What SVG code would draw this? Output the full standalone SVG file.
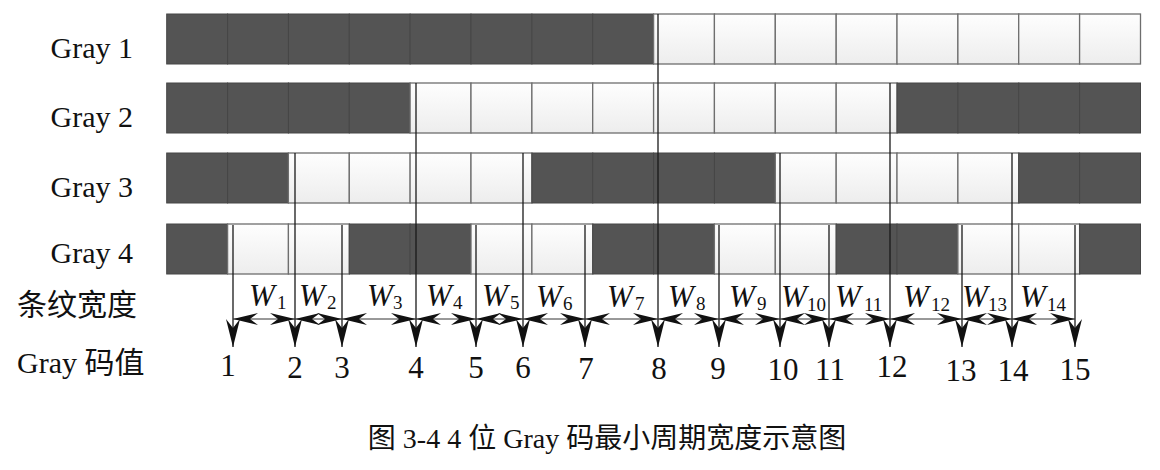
<svg xmlns="http://www.w3.org/2000/svg" width="1160" height="470" viewBox="0 0 1160 470">
<style>
.lbl{font-family:"Liberation Serif","Noto Sans CJK SC",serif;font-size:30px;fill:#111}
.cn{font-family:"Liberation Serif","Noto Sans CJK SC",serif;font-size:30px;fill:#111}
.w{font-family:"Liberation Serif",serif;font-size:31px;font-style:italic;fill:#111}
.sub{font-family:"Liberation Serif",serif;font-size:19px;fill:#111}
.num{font-family:"Liberation Serif",serif;font-size:31px;fill:#111;text-anchor:middle}
.cap{font-family:"Liberation Serif","Noto Sans CJK SC",serif;font-size:28px;fill:#111;text-anchor:middle}
.d{fill:#545454;stroke:#464646;stroke-width:1}
.l{fill:url(#lg);stroke:#6e6e6e;stroke-width:1.3}
.v{stroke:#1a1a1a;stroke-width:1.3;fill:none;marker-end:url(#va)}
.h{stroke:#333;stroke-width:1;fill:none;marker-start:url(#ha);marker-end:url(#ha)}
</style>
<defs>
<linearGradient id="lg" x1="0" y1="0" x2="0" y2="1">
<stop offset="0" stop-color="#fefefe"/>
<stop offset="1" stop-color="#ededed"/>
</linearGradient>
<marker id="va" viewBox="0 -8 28 16" refX="28" refY="0" markerWidth="28" markerHeight="16" markerUnits="userSpaceOnUse" orient="auto">
<path d="M28,0 L0,-7 L9,0 L0,7 Z" fill="#111"/>
</marker>
<marker id="ha" viewBox="0 -7 25 14" refX="25" refY="0" markerWidth="25" markerHeight="14" markerUnits="userSpaceOnUse" orient="auto-start-reverse">
<path d="M25,0 L0,-6 L8,0 L0,6 Z" fill="#111"/>
</marker>
</defs>
<rect width="1160" height="470" fill="#fff"/>

<g id="gray1">
<text class="lbl" x="133" y="58" text-anchor="end">Gray 1</text>
<rect class="d" x="166.7" y="14" width="60.9" height="50"/>
<rect class="d" x="227.6" y="14" width="60.9" height="50"/>
<rect class="d" x="288.4" y="14" width="60.9" height="50"/>
<rect class="d" x="349.3" y="14" width="60.9" height="50"/>
<rect class="d" x="410.1" y="14" width="60.9" height="50"/>
<rect class="d" x="471.0" y="14" width="60.9" height="50"/>
<rect class="d" x="531.9" y="14" width="60.9" height="50"/>
<rect class="d" x="592.7" y="14" width="60.9" height="50"/>
<rect class="l" x="653.6" y="14" width="60.9" height="50"/>
<rect class="l" x="714.4" y="14" width="60.9" height="50"/>
<rect class="l" x="775.3" y="14" width="60.9" height="50"/>
<rect class="l" x="836.2" y="14" width="60.9" height="50"/>
<rect class="l" x="897.0" y="14" width="60.9" height="50"/>
<rect class="l" x="957.9" y="14" width="60.9" height="50"/>
<rect class="l" x="1018.7" y="14" width="60.9" height="50"/>
<rect class="l" x="1079.6" y="14" width="60.9" height="50"/>
</g>

<g id="gray2">
<text class="lbl" x="133" y="127" text-anchor="end">Gray 2</text>
<rect class="d" x="166.7" y="83" width="60.9" height="50"/>
<rect class="d" x="227.6" y="83" width="60.9" height="50"/>
<rect class="d" x="288.4" y="83" width="60.9" height="50"/>
<rect class="d" x="349.3" y="83" width="60.9" height="50"/>
<rect class="l" x="410.1" y="83" width="60.9" height="50"/>
<rect class="l" x="471.0" y="83" width="60.9" height="50"/>
<rect class="l" x="531.9" y="83" width="60.9" height="50"/>
<rect class="l" x="592.7" y="83" width="60.9" height="50"/>
<rect class="l" x="653.6" y="83" width="60.9" height="50"/>
<rect class="l" x="714.4" y="83" width="60.9" height="50"/>
<rect class="l" x="775.3" y="83" width="60.9" height="50"/>
<rect class="l" x="836.2" y="83" width="60.9" height="50"/>
<rect class="d" x="897.0" y="83" width="60.9" height="50"/>
<rect class="d" x="957.9" y="83" width="60.9" height="50"/>
<rect class="d" x="1018.7" y="83" width="60.9" height="50"/>
<rect class="d" x="1079.6" y="83" width="60.9" height="50"/>
</g>

<g id="gray3">
<text class="lbl" x="133" y="197" text-anchor="end">Gray 3</text>
<rect class="d" x="166.7" y="153" width="60.9" height="50"/>
<rect class="d" x="227.6" y="153" width="60.9" height="50"/>
<rect class="l" x="288.4" y="153" width="60.9" height="50"/>
<rect class="l" x="349.3" y="153" width="60.9" height="50"/>
<rect class="l" x="410.1" y="153" width="60.9" height="50"/>
<rect class="l" x="471.0" y="153" width="60.9" height="50"/>
<rect class="d" x="531.9" y="153" width="60.9" height="50"/>
<rect class="d" x="592.7" y="153" width="60.9" height="50"/>
<rect class="d" x="653.6" y="153" width="60.9" height="50"/>
<rect class="d" x="714.4" y="153" width="60.9" height="50"/>
<rect class="l" x="775.3" y="153" width="60.9" height="50"/>
<rect class="l" x="836.2" y="153" width="60.9" height="50"/>
<rect class="l" x="897.0" y="153" width="60.9" height="50"/>
<rect class="l" x="957.9" y="153" width="60.9" height="50"/>
<rect class="d" x="1018.7" y="153" width="60.9" height="50"/>
<rect class="d" x="1079.6" y="153" width="60.9" height="50"/>
</g>

<g id="gray4">
<text class="lbl" x="133" y="263" text-anchor="end">Gray 4</text>
<rect class="d" x="166.7" y="224" width="60.9" height="50"/>
<rect class="l" x="227.6" y="224" width="60.9" height="50"/>
<rect class="l" x="288.4" y="224" width="60.9" height="50"/>
<rect class="d" x="349.3" y="224" width="60.9" height="50"/>
<rect class="d" x="410.1" y="224" width="60.9" height="50"/>
<rect class="l" x="471.0" y="224" width="60.9" height="50"/>
<rect class="l" x="531.9" y="224" width="60.9" height="50"/>
<rect class="d" x="592.7" y="224" width="60.9" height="50"/>
<rect class="d" x="653.6" y="224" width="60.9" height="50"/>
<rect class="l" x="714.4" y="224" width="60.9" height="50"/>
<rect class="l" x="775.3" y="224" width="60.9" height="50"/>
<rect class="d" x="836.2" y="224" width="60.9" height="50"/>
<rect class="d" x="897.0" y="224" width="60.9" height="50"/>
<rect class="l" x="957.9" y="224" width="60.9" height="50"/>
<rect class="l" x="1018.7" y="224" width="60.9" height="50"/>
<rect class="d" x="1079.6" y="224" width="60.9" height="50"/>
</g>

<g id="row-labels">
<text class="cn" x="17" y="315">条纹宽度</text>
<text class="lbl" x="17" y="373">Gray 码值</text>
</g>

<g id="connectors">
<path class="v" d="M233,225 V347"/>
<path class="v" d="M295,153 V347"/>
<path class="v" d="M342,225 V347"/>
<path class="v" d="M416,83 V347"/>
<path class="v" d="M476,225 V347"/>
<path class="v" d="M523,153 V347"/>
<path class="v" d="M585,225 V347"/>
<path class="v" d="M658,14 V347"/>
<path class="v" d="M719,225 V347"/>
<path class="v" d="M780,153 V347"/>
<path class="v" d="M829,225 V347"/>
<path class="v" d="M890,83 V347"/>
<path class="v" d="M962,225 V347"/>
<path class="v" d="M1012,153 V347"/>
<path class="v" d="M1075,225 V347"/>
<path class="h" d="M233,319 H295"/>
<path class="h" d="M295,319 H342"/>
<path class="h" d="M342,319 H416"/>
<path class="h" d="M416,319 H476"/>
<path class="h" d="M476,319 H523"/>
<path class="h" d="M523,319 H585"/>
<path class="h" d="M585,319 H658"/>
<path class="h" d="M658,319 H719"/>
<path class="h" d="M719,319 H780"/>
<path class="h" d="M780,319 H829"/>
<path class="h" d="M829,319 H890"/>
<path class="h" d="M890,319 H962"/>
<path class="h" d="M962,319 H1012"/>
<path class="h" d="M1012,319 H1075"/>
</g>

<g id="widths">
<text class="w" x="249" y="306">W</text><text class="sub" x="277" y="309">1</text>
<text class="w" x="299" y="306">W</text><text class="sub" x="327" y="309">2</text>
<text class="w" x="367" y="306">W</text><text class="sub" x="393" y="309">3</text>
<text class="w" x="426" y="306">W</text><text class="sub" x="453" y="309">4</text>
<text class="w" x="482" y="306">W</text><text class="sub" x="510" y="309">5</text>
<text class="w" x="536" y="307">W</text><text class="sub" x="563" y="310">6</text>
<text class="w" x="607" y="307">W</text><text class="sub" x="635" y="310">7</text>
<text class="w" x="668" y="307">W</text><text class="sub" x="696" y="310">8</text>
<text class="w" x="729" y="307">W</text><text class="sub" x="757" y="310">9</text>
<text class="w" x="781" y="307">W</text><text class="sub" x="807" y="311">10</text>
<text class="w" x="835" y="307">W</text><text class="sub" x="864" y="311">11</text>
<text class="w" x="903" y="307">W</text><text class="sub" x="931" y="311">12</text>
<text class="w" x="962" y="307">W</text><text class="sub" x="988" y="311">13</text>
<text class="w" x="1020" y="307">W</text><text class="sub" x="1047" y="311">14</text>
</g>

<g id="codes">
<text class="num" x="228" y="376">1</text>
<text class="num" x="295" y="378">2</text>
<text class="num" x="342" y="378">3</text>
<text class="num" x="416" y="378">4</text>
<text class="num" x="476" y="378">5</text>
<text class="num" x="523" y="378">6</text>
<text class="num" x="586" y="379">7</text>
<text class="num" x="659" y="379">8</text>
<text class="num" x="718" y="379">9</text>
<text class="num" x="783" y="380">10</text>
<text class="num" x="830" y="380">11</text>
<text class="num" x="892" y="377">12</text>
<text class="num" x="961" y="381">13</text>
<text class="num" x="1013" y="381">14</text>
<text class="num" x="1075" y="380">15</text>
</g>

<text class="cap" x="607" y="448">图 3-4 4 位 Gray 码最小周期宽度示意图</text>
</svg>
